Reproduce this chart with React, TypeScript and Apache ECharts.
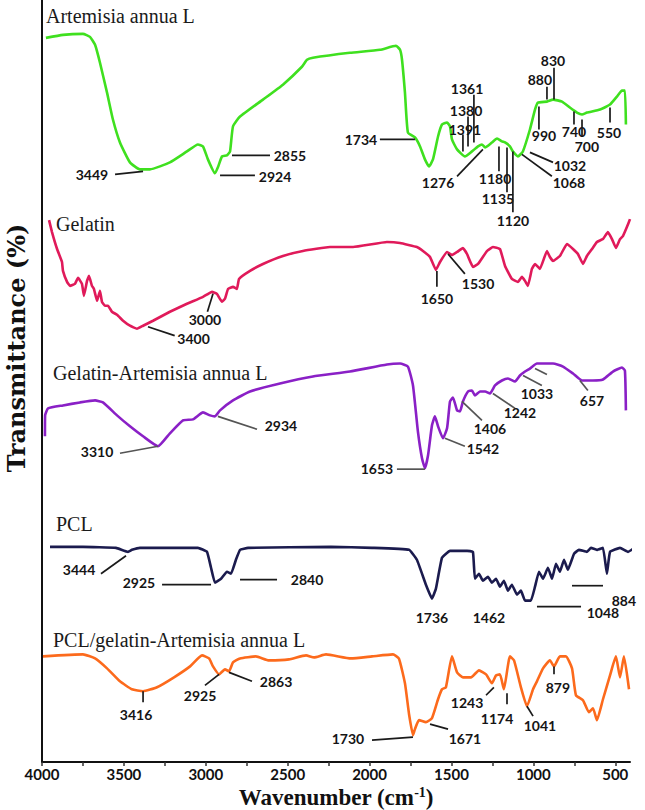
import React, { useEffect, useRef } from "react";
import * as echarts from "echarts";

// ---------- axis ----------
const xLabelValues = [4000, 3500, 3000, 2500, 2000, 1500, 1000, 500];
const xTickValues = [4000, 3750, 3500, 3250, 3000, 2750, 2500, 2250, 2000, 1750, 1500, 1250, 1000, 750, 500];

// ---------- spectra: [wavenumber, transmittance (arbitrary, offset)] ----------
const artemisia = [
  [3976, 727], [3872, 730], [3750, 731], [3707, 728], [3676, 720], [3646, 702], [3603, 672], [3567, 645],
  [3524, 622], [3463, 602], [3402, 595], [3341, 595], [3219, 602], [3115, 613], [3048, 620], [3017, 618],
  [2987, 605], [2944, 591], [2926, 597], [2901, 608], [2871, 609], [2852, 613], [2834, 638], [2791, 648],
  [2651, 665], [2529, 680], [2413, 698], [2382, 705], [2346, 707], [2120, 712], [1937, 715], [1839, 719],
  [1814, 715], [1802, 705], [1784, 672], [1766, 632], [1723, 627], [1692, 618], [1662, 605], [1637, 598],
  [1613, 605], [1582, 628], [1558, 640], [1527, 642], [1509, 638], [1497, 625], [1466, 615], [1418, 608],
  [1375, 613], [1338, 618], [1314, 620], [1295, 617], [1253, 622], [1222, 626], [1192, 623], [1173, 622],
  [1143, 618], [1125, 613], [1094, 608], [1064, 613], [1021, 635], [990, 655], [972, 662], [917, 663],
  [880, 665], [825, 663], [777, 657], [734, 652], [703, 650], [673, 652], [593, 655], [532, 660],
  [490, 668], [459, 674], [441, 674], [435, 640],
];

const gelatin = [
  [3957, 544], [3939, 532], [3908, 515], [3878, 502], [3872, 493], [3847, 482], [3829, 478], [3799, 480],
  [3780, 486], [3756, 480], [3744, 468], [3725, 483], [3713, 488], [3695, 478], [3683, 475], [3664, 463],
  [3646, 473], [3634, 462], [3615, 458], [3597, 458], [3573, 452], [3542, 449], [3505, 443], [3463, 438],
  [3420, 435], [3383, 438], [3322, 443], [3219, 452], [3115, 460], [3017, 467], [2962, 472], [2932, 470],
  [2901, 462], [2883, 465], [2864, 475], [2834, 477], [2810, 475], [2797, 485], [2730, 493], [2651, 500],
  [2529, 508], [2407, 513], [2242, 517], [2101, 517], [1894, 522], [1814, 521], [1711, 517], [1674, 513],
  [1631, 507], [1595, 494], [1570, 502], [1527, 512], [1497, 509], [1466, 512], [1430, 516], [1405, 510],
  [1369, 497], [1338, 500], [1283, 513], [1247, 517], [1204, 515], [1173, 498], [1131, 485], [1094, 482],
  [1070, 487], [1051, 483], [1033, 478], [1009, 495], [990, 500], [960, 495], [917, 513], [899, 507],
  [880, 503], [838, 508], [795, 520], [758, 515], [728, 510], [697, 500], [673, 508], [642, 515],
  [612, 522], [575, 525], [545, 532], [520, 525], [496, 516], [471, 525], [453, 528], [429, 537], [410, 545],
];

const gelatinArtemisia = [
  [3982, 327], [3981, 348], [3963, 355], [3872, 358], [3768, 361], [3676, 363], [3628, 361], [3542, 348],
  [3463, 337], [3383, 327], [3292, 317], [3219, 330], [3139, 343], [3078, 344], [3017, 351], [2974, 348],
  [2944, 347], [2913, 353], [2834, 363], [2730, 372], [2547, 380], [2346, 387], [2120, 392], [1894, 399],
  [1814, 400], [1766, 397], [1735, 378], [1705, 332], [1680, 305], [1662, 295], [1643, 308], [1619, 338],
  [1601, 347], [1582, 337], [1552, 325], [1527, 335], [1509, 362], [1491, 366], [1466, 353], [1448, 352],
  [1430, 362], [1399, 372], [1375, 373], [1357, 368], [1326, 372], [1295, 372], [1265, 370], [1234, 378],
  [1192, 383], [1155, 385], [1112, 382], [1082, 388], [1051, 392], [1021, 395], [978, 400], [880, 400],
  [819, 397], [758, 390], [703, 383], [636, 383], [575, 384], [514, 392], [459, 396], [441, 393], [435, 353],
];

const pcl = [
  [3951, 216], [3750, 216], [3548, 215], [3475, 211], [3451, 213], [3402, 215], [3048, 215], [2993, 211],
  [2968, 195], [2944, 180], [2907, 184], [2871, 191], [2846, 189], [2816, 203], [2791, 213], [2742, 215],
  [2236, 216], [1985, 215], [1759, 213], [1711, 203], [1656, 178], [1619, 164], [1595, 174], [1558, 205],
  [1509, 212], [1405, 212], [1369, 211], [1357, 184], [1332, 189], [1308, 182], [1277, 186], [1253, 180],
  [1228, 184], [1204, 176], [1180, 182], [1155, 172], [1131, 178], [1100, 168], [1076, 172], [1051, 162],
  [1015, 162], [990, 176], [966, 191], [941, 184], [911, 195], [886, 184], [862, 199], [838, 191],
  [813, 203], [789, 193], [752, 209], [722, 213], [673, 211], [648, 215], [612, 213], [575, 215],
  [551, 189], [532, 211], [471, 215], [422, 211], [361, 217], [319, 216],
];

const pclGelatinArtemisia = [
  [3994, 106], [3750, 108], [3676, 104], [3603, 94], [3524, 81], [3451, 73], [3383, 71], [3298, 75],
  [3194, 85], [3096, 96], [3023, 107], [2980, 104], [2956, 96], [2919, 88], [2883, 93], [2858, 91],
  [2834, 100], [2791, 104], [2694, 106], [2614, 102], [2492, 103], [2388, 107], [2339, 105], [2266, 108],
  [2114, 104], [1985, 106], [1857, 108], [1821, 104], [1784, 79], [1759, 48], [1735, 27], [1723, 33],
  [1698, 42], [1656, 40], [1619, 44], [1582, 63], [1558, 73], [1534, 75], [1497, 106], [1466, 90],
  [1430, 85], [1381, 85], [1332, 92], [1289, 88], [1253, 79], [1228, 87], [1204, 88], [1180, 73],
  [1143, 106], [1118, 102], [1076, 75], [1039, 56], [1002, 73], [978, 81], [941, 94], [899, 102],
  [874, 96], [838, 106], [801, 106], [764, 94], [740, 67], [697, 62], [661, 50], [636, 54],
  [612, 42], [575, 63], [532, 87], [496, 106], [471, 85], [447, 106], [416, 73],
];

// ---------- peak annotations: label, label anchor [wn, T], leader line [wn1, T1, wn2, T2] ----------
type Mark = { label: string; at: number[]; line?: number[] };

const artemisiaMarks: Mark[] = [
  { label: "3449", at: [3695, 590], line: [3554, 590, 3383, 593] },
  { label: "2855", at: [2486, 609], line: [2840, 609, 2608, 609] },
  { label: "2924", at: [2577, 588], line: [2913, 589, 2700, 589] },
  { label: "1734", at: [2053, 625], line: [1937, 625, 1723, 625] },
  { label: "1361", at: [1405, 676], line: [1363, 670, 1363, 622] },
  { label: "1380", at: [1411, 654], line: [1399, 648, 1399, 618] },
  { label: "1391", at: [1418, 635], line: [1430, 630, 1430, 613] },
  { label: "1276", at: [1582, 582], line: [1466, 588, 1308, 615] },
  { label: "1180", at: [1234, 586], line: [1210, 618, 1210, 593] },
  { label: "1135", at: [1216, 566], line: [1161, 617, 1161, 572] },
  { label: "1120", at: [1125, 544], line: [1125, 613, 1125, 552] },
  { label: "1032", at: [777, 599], line: [1021, 612, 880, 602] },
  { label: "1068", at: [783, 582], line: [1070, 610, 887, 588] },
  { label: "990", at: [935, 629], line: [966, 658, 966, 635] },
  { label: "880", at: [960, 685], line: [917, 678, 917, 665] },
  { label: "830", at: [880, 704], line: [874, 697, 874, 665] },
  { label: "740", at: [752, 633], line: [752, 653, 752, 640] },
  { label: "700", at: [673, 618], line: [703, 645, 703, 628] },
  { label: "550", at: [538, 632], line: [532, 657, 532, 642] },
];

const gelatinMarks: Mark[] = [
  { label: "3400", at: [3075, 425], line: [3353, 437, 3190, 428] },
  { label: "3000", at: [3005, 444], line: [2956, 470, 2990, 452] },
  { label: "1650", at: [1589, 465], line: [1589, 493, 1589, 477] },
  { label: "1530", at: [1338, 480], line: [1521, 510, 1418, 490] },
];

const gelatinArtemisiaMarks: Mark[] = [
  { label: "3310", at: [3664, 312], line: [3524, 310, 3292, 317] },
  { label: "2934", at: [2541, 338], line: [2926, 347, 2687, 334] },
  { label: "1653", at: [1955, 295], line: [1833, 294, 1662, 294] },
  { label: "1542", at: [1308, 315], line: [1540, 325, 1418, 317] },
  { label: "1406", at: [1265, 335], line: [1436, 362, 1314, 343] },
  { label: "1242", at: [1082, 351], line: [1247, 370, 1112, 355] },
  { label: "1033", at: [978, 370], line: [1063, 388, 948, 378] },
  { label: "", at: [990, 395], line: [990, 395, 917, 389] },
  { label: "657", at: [642, 363], line: [716, 383, 667, 373] },
];

const pclMarks: Mark[] = [
  { label: "3444", at: [3774, 193], line: [3640, 189, 3487, 207] },
  { label: "2925", at: [3408, 180], line: [3267, 178, 2968, 178] },
  { label: "2840", at: [2382, 183], line: [2791, 183, 2565, 183] },
  { label: "1736", at: [1619, 145] },
  { label: "1462", at: [1271, 145] },
  { label: "1048", at: [575, 150], line: [978, 156, 709, 156] },
  { label: "884", at: [447, 162], line: [764, 177, 575, 177] },
];

const pclGelatinArtemisiaMarks: Mark[] = [
  { label: "3416", at: [3426, 48], line: [3383, 71, 3383, 60] },
  { label: "2925", at: [3035, 67], line: [2919, 88, 3005, 77] },
  { label: "2863", at: [2571, 81], line: [2858, 90, 2718, 81] },
  { label: "1730", at: [2132, 24], line: [1985, 22, 1735, 25] },
  { label: "1671", at: [1418, 24], line: [1631, 38, 1521, 33] },
  { label: "1243", at: [1405, 60], line: [1289, 67, 1241, 75] },
  { label: "1174", at: [1222, 44], line: [1161, 69, 1161, 58] },
  { label: "1041", at: [960, 37], line: [1039, 56, 1002, 46] },
  { label: "879", at: [850, 75], line: [874, 96, 874, 88] },
];

const seriesTitles = [
  { text: "Artemisia annua L", x: 46, y: 18 },
  { text: "Gelatin", x: 56, y: 226 },
  { text: "Gelatin-Artemisia annua L", x: 53, y: 375 },
  { text: "PCL", x: 56, y: 526 },
  { text: "PCL/gelatin-Artemisia annua L", x: 53, y: 642 },
];

const LABEL_FONT = "Lato, 'Open Sans', sans-serif";
const SERIF = "'Liberation Serif', 'Times New Roman', serif";

function spectrum(name: string, data: number[][], color: string, smooth: number, clip = true) {
  return {
    name,
    type: "line",
    data,
    showSymbol: false,
    symbol: "none",
    smooth,
    clip,
    silent: true,
    lineStyle: { color, width: 2.6, join: "round" },
    z: 2,
  };
}

function annotations(marks: Mark[], lineColor: string) {
  return {
    type: "custom",
    coordinateSystem: "cartesian2d",
    clip: false,
    silent: true,
    z: 5,
    data: marks.map((m) => m.at),
    renderItem: (params: any, api: any) => {
      const m = marks[params.dataIndex];
      const p = api.coord(m.at);
      const children: any[] = [];
      if (m.line) {
        const a = api.coord([m.line[0], m.line[1]]);
        const b = api.coord([m.line[2], m.line[3]]);
        children.push({
          type: "line",
          shape: { x1: a[0], y1: a[1], x2: b[0], y2: b[1] },
          style: { stroke: lineColor, lineWidth: 1.7 },
        });
      }
      if (m.label) {
        children.push({
          type: "text",
          x: p[0],
          y: p[1],
          style: {
            text: m.label,
            fill: "#151515",
            fontFamily: LABEL_FONT,
            fontWeight: "bold",
            fontSize: 14,
            align: "center",
            verticalAlign: "middle",
          },
        });
      }
      return { type: "group", children };
    },
  };
}

export default function App() {
  const ref = useRef<HTMLDivElement>(null);

  useEffect(() => {
    if (!ref.current) return;
    const chart = echarts.init(ref.current, null, { renderer: "svg" });
    const option: any = {
      animation: false,
      backgroundColor: "#ffffff",
      grid: { left: 42, right: 15, top: 0, bottom: 48, containLabel: false },
      xAxis: {
        type: "value",
        min: 410,
        max: 4000,
        inverse: true,
        axisLine: { show: true, onZero: false, lineStyle: { color: "#111", width: 2 } },
        axisTick: { show: true, customValues: xTickValues, length: 4, lineStyle: { color: "#333", width: 1.5 } },
        axisLabel: {
          customValues: xLabelValues,
          formatter: (v: number) => String(v),
          color: "#111",
          fontFamily: LABEL_FONT,
          fontWeight: "bold",
          fontSize: 15,
          margin: 4,
        },
        splitLine: { show: false },
      },
      yAxis: {
        type: "value",
        min: 0,
        max: 765,
        axisLine: { show: true, lineStyle: { color: "#111", width: 2 } },
        axisTick: { show: false },
        axisLabel: { show: false },
        splitLine: { show: false },
      },
      graphic: [
        ...seriesTitles.map((t) => ({
          type: "text",
          left: t.x,
          top: t.y - 12,
          style: { text: t.text, fill: "#1a1a1a", fontFamily: SERIF, fontSize: 20 },
          silent: true,
        })),
        {
          type: "text",
          x: 16,
          y: 348,
          rotation: Math.PI / 2,
          style: {
            text: "Transmittance (%)",
            fill: "#111",
            fontFamily: "'DejaVu Serif', serif",
            fontWeight: "bold",
            fontSize: 24,
            align: "center",
            verticalAlign: "middle",
          },
          silent: true,
        },
        {
          type: "text",
          x: 336,
          y: 797,
          style: {
            text: "{a|Wavenumber (cm}{s|-1}{a|)}",
            align: "center",
            verticalAlign: "middle",
            rich: {
              a: { fontFamily: SERIF, fontWeight: "bold", fontSize: 23, fill: "#111", lineHeight: 23, verticalAlign: "bottom" },
              s: { fontFamily: SERIF, fontWeight: "bold", fontSize: 14, fill: "#111", lineHeight: 23, verticalAlign: "top" },
            },
          },
          silent: true,
        },
      ],
      series: [
        spectrum("Artemisia annua L", artemisia, "#3fe01f", 0.15),
        spectrum("Gelatin", gelatin, "#e01a5a", 0.1),
        spectrum("Gelatin-Artemisia annua L", gelatinArtemisia, "#8a20c6", 0.15),
        spectrum("PCL", pcl, "#1b1b4e", 0.1, false),
        spectrum("PCL/gelatin-Artemisia annua L", pclGelatinArtemisia, "#fc6a1c", 0.15),
        annotations(artemisiaMarks, "#1a1a1a"),
        annotations(gelatinMarks, "#1a1a1a"),
        annotations(gelatinArtemisiaMarks, "#555555"),
        annotations(pclMarks, "#1a1a1a"),
        annotations(pclGelatinArtemisiaMarks, "#1a1a1a"),
      ],
    };
    chart.setOption(option);
    return () => chart.dispose();
  }, []);

  return (
    <div
      ref={ref}
      style={{ position: "fixed", left: 0, top: 0, width: 645, height: 810, background: "#fff" }}
    />
  );
}
